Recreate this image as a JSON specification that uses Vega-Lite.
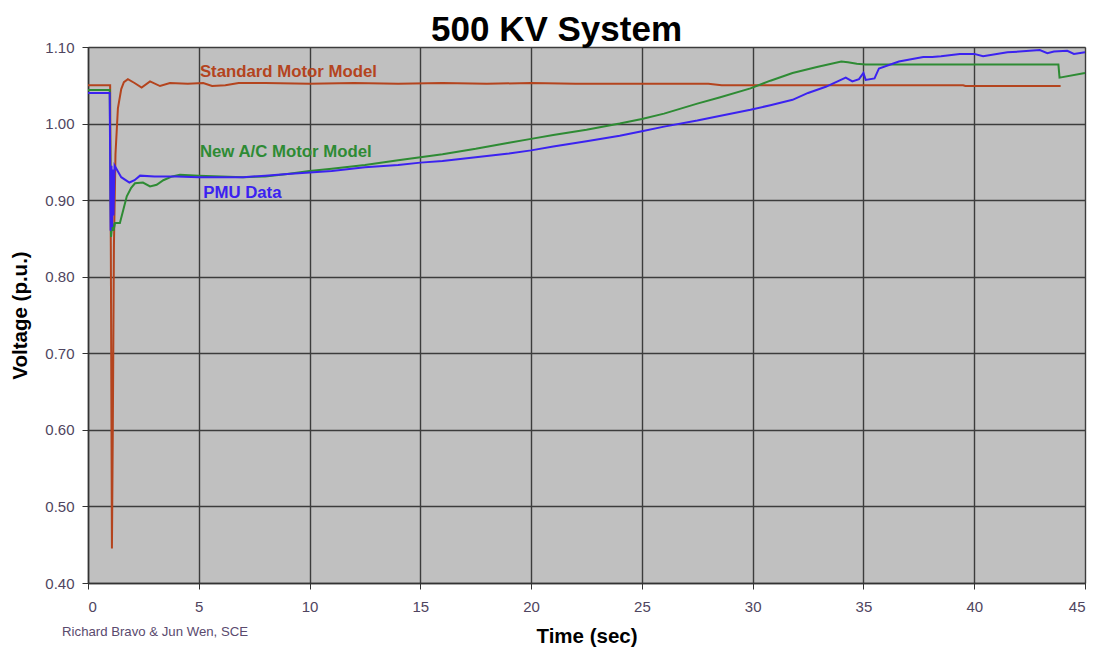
{
  "$schema": "https://vega.github.io/schema/vega-lite/v6.json",
  "width": 997,
  "height": 536,
  "autosize": {"type": "none"},
  "padding": {"left": 88, "top": 47, "right": 9, "bottom": 64},
  "background": "#ffffff",
  "title": {"text": "500 KV System", "fontSize": 35, "font": "Liberation Sans", "fontWeight": "bold", "color": "#000000", "anchor": "middle", "frame": "group", "dx": -30, "dy": 45, "baseline": "alphabetic", "offset": 9},
  "config": {
    "view": {"fill": "#c0c0c0", "stroke": "#9a9a9a", "strokeWidth": 1},
    "axis": {"labelFont": "Liberation Sans", "labelFontSize": 15, "labelColor": "#4f4560", "titleFont": "Liberation Sans", "titleFontSize": 20.5, "titleFontWeight": "bold", "titleColor": "#000000", "tickColor": "#333333", "tickSize": 6, "domainColor": "#333333", "domainWidth": 1.5, "gridColor": "#3c3c3c", "gridWidth": 1.4, "gridOpacity": 1}
  },
  "datasets": {
    "lines": [
      {"series": "Standard Motor Model", "t": 0, "v": 1.050},
      {"series": "Standard Motor Model", "t": 1.0, "v": 1.050},
      {"series": "Standard Motor Model", "t": 1.03, "v": 0.84},
      {"series": "Standard Motor Model", "t": 1.08, "v": 0.445},
      {"series": "Standard Motor Model", "t": 1.12, "v": 0.60},
      {"series": "Standard Motor Model", "t": 1.17, "v": 0.84},
      {"series": "Standard Motor Model", "t": 1.24, "v": 0.96},
      {"series": "Standard Motor Model", "t": 1.35, "v": 1.02},
      {"series": "Standard Motor Model", "t": 1.5, "v": 1.045},
      {"series": "Standard Motor Model", "t": 1.62, "v": 1.054},
      {"series": "Standard Motor Model", "t": 1.8, "v": 1.058},
      {"series": "Standard Motor Model", "t": 2.1, "v": 1.053},
      {"series": "Standard Motor Model", "t": 2.42, "v": 1.047},
      {"series": "Standard Motor Model", "t": 2.8, "v": 1.055},
      {"series": "Standard Motor Model", "t": 3.25, "v": 1.049},
      {"series": "Standard Motor Model", "t": 3.7, "v": 1.053},
      {"series": "Standard Motor Model", "t": 4.5, "v": 1.052},
      {"series": "Standard Motor Model", "t": 5.2, "v": 1.053},
      {"series": "Standard Motor Model", "t": 5.6, "v": 1.049},
      {"series": "Standard Motor Model", "t": 6.2, "v": 1.050},
      {"series": "Standard Motor Model", "t": 6.8, "v": 1.053},
      {"series": "Standard Motor Model", "t": 8, "v": 1.053},
      {"series": "Standard Motor Model", "t": 10, "v": 1.052},
      {"series": "Standard Motor Model", "t": 12, "v": 1.053},
      {"series": "Standard Motor Model", "t": 14, "v": 1.052},
      {"series": "Standard Motor Model", "t": 16, "v": 1.053},
      {"series": "Standard Motor Model", "t": 18, "v": 1.052},
      {"series": "Standard Motor Model", "t": 20, "v": 1.053},
      {"series": "Standard Motor Model", "t": 22, "v": 1.052},
      {"series": "Standard Motor Model", "t": 24, "v": 1.052},
      {"series": "Standard Motor Model", "t": 26, "v": 1.052},
      {"series": "Standard Motor Model", "t": 28, "v": 1.052},
      {"series": "Standard Motor Model", "t": 28.6, "v": 1.050},
      {"series": "Standard Motor Model", "t": 32, "v": 1.050},
      {"series": "Standard Motor Model", "t": 36, "v": 1.050},
      {"series": "Standard Motor Model", "t": 39.5, "v": 1.050},
      {"series": "Standard Motor Model", "t": 39.6, "v": 1.049},
      {"series": "Standard Motor Model", "t": 43.9, "v": 1.049},
      {"series": "New A/C Motor Model", "t": 0, "v": 1.044},
      {"series": "New A/C Motor Model", "t": 0.98, "v": 1.044},
      {"series": "New A/C Motor Model", "t": 1.04, "v": 0.852},
      {"series": "New A/C Motor Model", "t": 1.1, "v": 0.87},
      {"series": "New A/C Motor Model", "t": 1.15, "v": 0.86},
      {"series": "New A/C Motor Model", "t": 1.22, "v": 0.870},
      {"series": "New A/C Motor Model", "t": 1.44, "v": 0.870},
      {"series": "New A/C Motor Model", "t": 1.6, "v": 0.888},
      {"series": "New A/C Motor Model", "t": 1.75, "v": 0.905},
      {"series": "New A/C Motor Model", "t": 1.95, "v": 0.916},
      {"series": "New A/C Motor Model", "t": 2.12, "v": 0.922},
      {"series": "New A/C Motor Model", "t": 2.48, "v": 0.923},
      {"series": "New A/C Motor Model", "t": 2.8, "v": 0.918},
      {"series": "New A/C Motor Model", "t": 3.1, "v": 0.920},
      {"series": "New A/C Motor Model", "t": 3.4, "v": 0.926},
      {"series": "New A/C Motor Model", "t": 3.8, "v": 0.931},
      {"series": "New A/C Motor Model", "t": 4.15, "v": 0.933},
      {"series": "New A/C Motor Model", "t": 5, "v": 0.932},
      {"series": "New A/C Motor Model", "t": 6, "v": 0.931},
      {"series": "New A/C Motor Model", "t": 7, "v": 0.930},
      {"series": "New A/C Motor Model", "t": 8, "v": 0.931},
      {"series": "New A/C Motor Model", "t": 9, "v": 0.934},
      {"series": "New A/C Motor Model", "t": 10, "v": 0.938},
      {"series": "New A/C Motor Model", "t": 11, "v": 0.941},
      {"series": "New A/C Motor Model", "t": 12.5, "v": 0.946},
      {"series": "New A/C Motor Model", "t": 14, "v": 0.952},
      {"series": "New A/C Motor Model", "t": 15, "v": 0.956},
      {"series": "New A/C Motor Model", "t": 16, "v": 0.960},
      {"series": "New A/C Motor Model", "t": 17.5, "v": 0.967},
      {"series": "New A/C Motor Model", "t": 19, "v": 0.975},
      {"series": "New A/C Motor Model", "t": 20, "v": 0.980},
      {"series": "New A/C Motor Model", "t": 21, "v": 0.985},
      {"series": "New A/C Motor Model", "t": 22.5, "v": 0.992},
      {"series": "New A/C Motor Model", "t": 24, "v": 1.000},
      {"series": "New A/C Motor Model", "t": 25, "v": 1.006},
      {"series": "New A/C Motor Model", "t": 26, "v": 1.013},
      {"series": "New A/C Motor Model", "t": 27.5, "v": 1.026},
      {"series": "New A/C Motor Model", "t": 28.5, "v": 1.034},
      {"series": "New A/C Motor Model", "t": 29.9, "v": 1.046},
      {"series": "New A/C Motor Model", "t": 30.8, "v": 1.056},
      {"series": "New A/C Motor Model", "t": 31.8, "v": 1.066},
      {"series": "New A/C Motor Model", "t": 32.9, "v": 1.074},
      {"series": "New A/C Motor Model", "t": 34.0, "v": 1.081},
      {"series": "New A/C Motor Model", "t": 34.3, "v": 1.080},
      {"series": "New A/C Motor Model", "t": 34.7, "v": 1.078},
      {"series": "New A/C Motor Model", "t": 35.1, "v": 1.077},
      {"series": "New A/C Motor Model", "t": 40, "v": 1.077},
      {"series": "New A/C Motor Model", "t": 43.8, "v": 1.077},
      {"series": "New A/C Motor Model", "t": 43.85, "v": 1.060},
      {"series": "New A/C Motor Model", "t": 45, "v": 1.066},
      {"series": "PMU Data", "t": 0, "v": 1.040},
      {"series": "PMU Data", "t": 0.98, "v": 1.040},
      {"series": "PMU Data", "t": 1.02, "v": 0.86},
      {"series": "PMU Data", "t": 1.06, "v": 0.945},
      {"series": "PMU Data", "t": 1.09, "v": 0.865},
      {"series": "PMU Data", "t": 1.12, "v": 0.94},
      {"series": "PMU Data", "t": 1.15, "v": 0.88},
      {"series": "PMU Data", "t": 1.2, "v": 0.945},
      {"series": "PMU Data", "t": 1.3, "v": 0.940},
      {"series": "PMU Data", "t": 1.5, "v": 0.930},
      {"series": "PMU Data", "t": 1.87, "v": 0.923},
      {"series": "PMU Data", "t": 2.1, "v": 0.926},
      {"series": "PMU Data", "t": 2.35, "v": 0.932},
      {"series": "PMU Data", "t": 3, "v": 0.931},
      {"series": "PMU Data", "t": 4, "v": 0.931},
      {"series": "PMU Data", "t": 5, "v": 0.930},
      {"series": "PMU Data", "t": 6, "v": 0.930},
      {"series": "PMU Data", "t": 7, "v": 0.930},
      {"series": "PMU Data", "t": 8, "v": 0.932},
      {"series": "PMU Data", "t": 9, "v": 0.934},
      {"series": "PMU Data", "t": 10, "v": 0.936},
      {"series": "PMU Data", "t": 11, "v": 0.938},
      {"series": "PMU Data", "t": 12.5, "v": 0.943},
      {"series": "PMU Data", "t": 14, "v": 0.946},
      {"series": "PMU Data", "t": 15, "v": 0.949},
      {"series": "PMU Data", "t": 16, "v": 0.951},
      {"series": "PMU Data", "t": 17.5, "v": 0.956},
      {"series": "PMU Data", "t": 19, "v": 0.961},
      {"series": "PMU Data", "t": 20, "v": 0.965},
      {"series": "PMU Data", "t": 21, "v": 0.970},
      {"series": "PMU Data", "t": 22.5, "v": 0.977},
      {"series": "PMU Data", "t": 24, "v": 0.984},
      {"series": "PMU Data", "t": 25, "v": 0.990},
      {"series": "PMU Data", "t": 26, "v": 0.996},
      {"series": "PMU Data", "t": 27.5, "v": 1.004},
      {"series": "PMU Data", "t": 28.5, "v": 1.010},
      {"series": "PMU Data", "t": 29.9, "v": 1.018},
      {"series": "PMU Data", "t": 30.8, "v": 1.024},
      {"series": "PMU Data", "t": 31.8, "v": 1.031},
      {"series": "PMU Data", "t": 32.5, "v": 1.040},
      {"series": "PMU Data", "t": 33.3, "v": 1.048},
      {"series": "PMU Data", "t": 34.2, "v": 1.060},
      {"series": "PMU Data", "t": 34.5, "v": 1.055},
      {"series": "PMU Data", "t": 34.8, "v": 1.058},
      {"series": "PMU Data", "t": 35.0, "v": 1.066},
      {"series": "PMU Data", "t": 35.1, "v": 1.057},
      {"series": "PMU Data", "t": 35.5, "v": 1.059},
      {"series": "PMU Data", "t": 35.7, "v": 1.072},
      {"series": "PMU Data", "t": 36.6, "v": 1.081},
      {"series": "PMU Data", "t": 37.7, "v": 1.087},
      {"series": "PMU Data", "t": 38.1, "v": 1.087},
      {"series": "PMU Data", "t": 38.5, "v": 1.088},
      {"series": "PMU Data", "t": 39.35, "v": 1.091},
      {"series": "PMU Data", "t": 40, "v": 1.091},
      {"series": "PMU Data", "t": 40.4, "v": 1.088},
      {"series": "PMU Data", "t": 41.5, "v": 1.093},
      {"series": "PMU Data", "t": 42.5, "v": 1.095},
      {"series": "PMU Data", "t": 42.96, "v": 1.096},
      {"series": "PMU Data", "t": 43.3, "v": 1.092},
      {"series": "PMU Data", "t": 43.6, "v": 1.094},
      {"series": "PMU Data", "t": 44.2, "v": 1.095},
      {"series": "PMU Data", "t": 44.5, "v": 1.091},
      {"series": "PMU Data", "t": 45, "v": 1.093}
    ],
    "labels": [
      {"series": "Standard Motor Model", "t": 5.05, "v": 1.067},
      {"series": "New A/C Motor Model", "t": 5.05, "v": 0.963},
      {"series": "PMU Data", "t": 5.2, "v": 0.909}
    ],
    "note": [
      {"label": "Richard Bravo & Jun Wen, SCE", "t": -1.17, "v": 0.336}
    ]
  },
  "layer": [
    {
      "data": {"name": "lines"},
      "mark": {"type": "line", "interpolate": "linear"},
      "encoding": {
        "x": {"field": "t", "type": "quantitative", "scale": {"domain": [0, 45], "nice": false}, "axis": {"values": [0, 5, 10, 15, 20, 25, 30, 35, 40, 45], "title": "Time (sec)", "labelPadding": 10, "titlePadding": 12}},
        "y": {"field": "v", "type": "quantitative", "scale": {"domain": [0.4, 1.1], "nice": false, "zero": false}, "axis": {"values": [0.4, 0.5, 0.6, 0.7, 0.8, 0.9, 1.0, 1.1], "format": ".2f", "title": "Voltage (p.u.)", "labelPadding": 8, "titlePadding": 14}},
        "color": {"field": "series", "type": "nominal", "scale": {"domain": ["Standard Motor Model", "New A/C Motor Model", "PMU Data"], "range": ["#b4441e", "#2e8b34", "#3b22f0"]}, "legend": null},
        "strokeWidth": {"field": "series", "type": "nominal", "scale": {"domain": ["Standard Motor Model", "New A/C Motor Model", "PMU Data"], "range": [2, 2, 2.6]}, "legend": null}
      }
    },
    {
      "data": {"name": "labels"},
      "mark": {"type": "text", "align": "left", "baseline": "middle", "font": "Liberation Sans", "fontSize": 16.8, "fontWeight": "bold"},
      "encoding": {
        "x": {"field": "t", "type": "quantitative"},
        "y": {"field": "v", "type": "quantitative"},
        "text": {"field": "series"},
        "color": {"field": "series", "type": "nominal", "legend": null}
      }
    },
    {
      "data": {"name": "note"},
      "mark": {"type": "text", "align": "left", "baseline": "middle", "font": "Liberation Sans", "fontSize": 13.2, "color": "#5a4a6e"},
      "encoding": {
        "x": {"field": "t", "type": "quantitative"},
        "y": {"field": "v", "type": "quantitative"},
        "text": {"field": "label"}
      }
    }
  ]
}
